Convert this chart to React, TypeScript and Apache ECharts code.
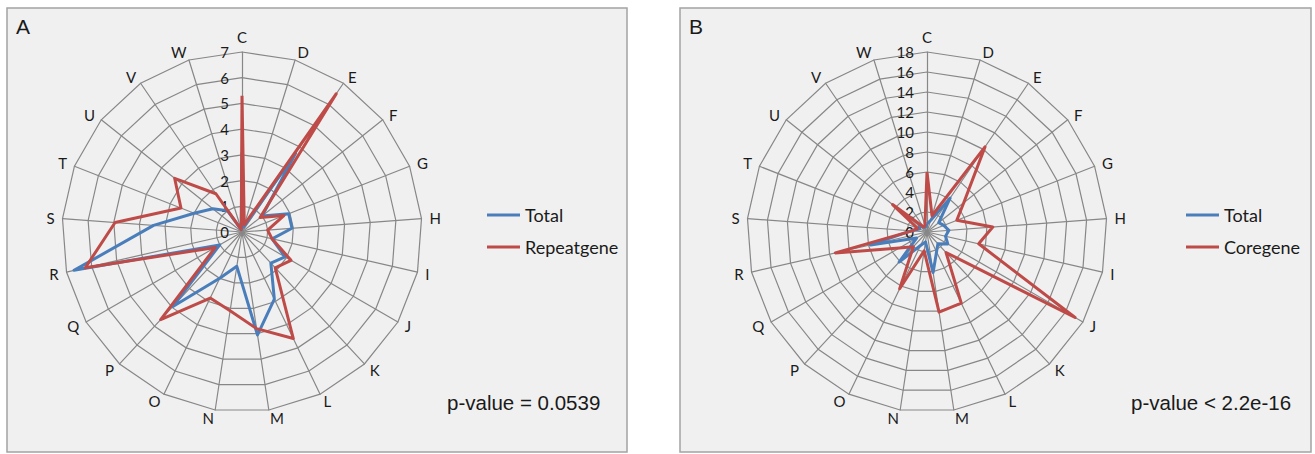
import React, { useEffect, useRef } from 'react';
import * as echarts from 'echarts';

const categories = ['C', 'D', 'E', 'F', 'G', 'H', 'I', 'J', 'K', 'L', 'M', 'N', 'O', 'P', 'Q', 'R', 'S', 'T', 'U', 'V', 'W'];

// Panel A
const totalA = [3.1, 0.2, 3.7, 1.0, 1.95, 1.95, 1.2, 1.93, 1.65, 2.9, 4.05, 1.35, 2.0, 3.95, 1.0, 6.7, 3.45, 2.0, 1.45, 1.0, 0.1];
const repeatgeneA = [5.3, 0.3, 6.5, 0.9, 1.75, 1.0, 1.2, 2.2, 1.9, 4.6, 3.8, 3.1, 2.85, 4.65, 1.2, 6.25, 4.95, 2.55, 3.35, 1.8, 0.1];
const maxA = 7;
const splitA = 7;

// Panel B
const totalB = [0.8, 1.2, 4.1, 1.5, 1.8, 2.2, 1.9, 2.4, 1.6, 2.2, 4.1, 1.0, 1.5, 4.1, 1.2, 5.8, 1.6, 0.8, 1.0, 0.6, 0.5];
const coregeneB = [6.0, 1.7, 10.3, 4.7, 3.2, 6.6, 5.3, 17.1, 2.8, 7.9, 8.1, 1.9, 6.3, 2.0, 3.2, 9.4, 1.5, 1.0, 4.4, 0.6, 0.7];
const maxB = 18;
const splitB = 9;

const BLUE = '#4a7ebb';
const RED = '#be4b48';
const GRID = '#878787';
const TEXT = '#1a1a1a';
const XL_FONT = 'Lato';

export default function App() {
  const ref = useRef<HTMLDivElement>(null);

  useEffect(() => {
    const chart = echarts.init(ref.current!, null, { renderer: 'svg' });
    const n = categories.length;
    // Excel draws clockwise from the top; ECharts draws counter-clockwise
    const order = [0];
    for (let i = n - 1; i >= 1; i--) order.push(i);
    const reorder = (arr: number[]) => order.map((i) => arr[i]);
    const indicators = (max: number) =>
      order.map((i, k) => ({
        name: categories[i],
        min: 0,
        max,
        ...(k === 0 ? { axisLabel: { show: true } } : {}),
      }));

    const radarBase = (center: number[], split: number, max: number) => ({
      center,
      radius: 180,
      startAngle: 90,
      shape: 'polygon',
      splitNumber: split,
      nameGap: 8,
      axisName: { color: TEXT, fontSize: 15, fontFamily: XL_FONT },
      axisLine: { lineStyle: { color: GRID, width: 1.2 } },
      splitLine: { lineStyle: { color: GRID, width: 1.2 } },
      splitArea: { show: false },
      axisTick: { show: false },
      axisLabel: { show: false, color: TEXT, fontSize: 15, fontFamily: XL_FONT, margin: 13 },
      indicator: indicators(max),
    });

    const legendBase = (left: number, data: string[]) => ({
      orient: 'vertical',
      left,
      top: 206,
      padding: 0,
      data,
      icon: 'rect',
      itemWidth: 33,
      itemHeight: 3,
      itemGap: 14,
      selectedMode: false,
      textStyle: { fontSize: 18, fontFamily: XL_FONT, color: TEXT },
    });

    const titleStyle = (size: number) => ({
      fontSize: size,
      fontWeight: 'normal',
      fontFamily: 'Liberation Sans',
      color: TEXT,
    });

    chart.setOption({
      animation: false,
      graphic: [
        {
          type: 'rect',
          z: -10,
          shape: { x: 7, y: 8, width: 620, height: 444 },
          style: { fill: '#f0f0f0', stroke: '#a3a3a3', lineWidth: 1.5 },
        },
        {
          type: 'rect',
          z: -10,
          shape: { x: 680, y: 8, width: 631, height: 444 },
          style: { fill: '#f0f0f0', stroke: '#a3a3a3', lineWidth: 1.5 },
        },
      ],
      title: [
        { text: 'A', left: 16, top: 16, padding: 0, textStyle: titleStyle(21) },
        { text: 'B', left: 689, top: 16, padding: 0, textStyle: titleStyle(21) },
        { text: 'p-value = 0.0539', left: 447, top: 392, padding: 0, textStyle: titleStyle(20.5) },
        { text: 'p-value < 2.2e-16', left: 1131, top: 392, padding: 0, textStyle: titleStyle(20.5) },
      ],
      legend: [legendBase(487, ['Total', 'Repeatgene']), legendBase(1186, ['Total', 'Coregene'])],
      radar: [radarBase([242, 232], splitA, maxA), radarBase([927, 232], splitB, maxB)],
      series: [
        {
          type: 'radar',
          radarIndex: 0,
          symbol: 'none',
          data: [
            { name: 'Total', value: reorder(totalA), lineStyle: { color: BLUE, width: 3 }, itemStyle: { color: BLUE } },
            { name: 'Repeatgene', value: reorder(repeatgeneA), lineStyle: { color: RED, width: 3 }, itemStyle: { color: RED } },
          ],
        },
        {
          type: 'radar',
          radarIndex: 1,
          symbol: 'none',
          data: [
            { name: 'Total', value: reorder(totalB), lineStyle: { color: BLUE, width: 3 }, itemStyle: { color: BLUE } },
            { name: 'Coregene', value: reorder(coregeneB), lineStyle: { color: RED, width: 3 }, itemStyle: { color: RED } },
          ],
        },
      ],
    });

    return () => chart.dispose();
  }, []);

  return (
    <div
      ref={ref}
      style={{ position: 'absolute', left: 0, top: 0, width: 1315, height: 454, background: '#ffffff' }}
    />
  );
}
